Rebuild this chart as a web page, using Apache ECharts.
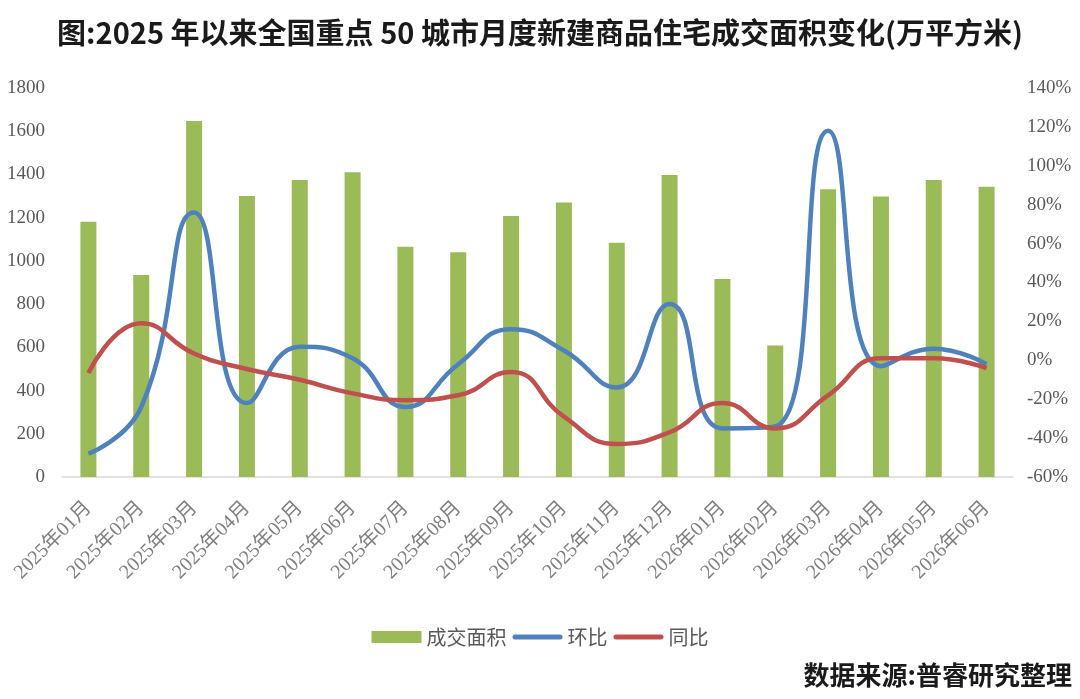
<!DOCTYPE html>
<html>
<head>
    <title>2025年以来全国重点50城市月度新建商品住宅成交面积变化</title>
    <meta charset="utf-8" />
    <script src="https://cdn.jsdelivr.net/npm/echarts@6/dist/echarts.min.js"></script>
    <style type="text/css">
        html,
        body {
            width: 100%;
            height: 100%;
            margin: 0;
            background: #fff;
        }

        #main {
            width: 1080px;
            height: 699px;
        }
    </style>
</head>

<body>
    <div id="main"></div>
    <script>
        // 月份
        var months = ['2025年01月', '2025年02月', '2025年03月', '2025年04月', '2025年05月', '2025年06月',
            '2025年07月', '2025年08月', '2025年09月', '2025年10月', '2025年11月', '2025年12月',
            '2026年01月', '2026年02月', '2026年03月', '2026年04月', '2026年05月', '2026年06月'];
        // 成交面积（万平方米）
        var area = [1181, 935, 1647, 1300, 1374, 1410, 1066, 1040, 1208, 1270, 1084, 1397, 916, 608, 1331, 1298, 1374, 1343];
        // 环比（%）
        var mom = [-48, -24, 76, -22, 7, 1, -24, -2, 16, 5, -14, 29, -35, -34, 118, -3, 6, -2];
        // 同比（%）
        var yoy = [-6.5, 19, 3.5, -4.5, -10, -17, -20.5, -18, -6, -29, -43, -37, -22, -35, -18, 1, 1, -4];

        var axisFont = 'Liberation Serif, Noto Sans CJK SC';
        // 图例里的粗线（圆头）
        var lineIcon = 'path://M2.5,0 H47.5 A2.5,2.5 0 0 1 47.5,5 H2.5 A2.5,2.5 0 0 1 2.5,0 Z';

        var myChart = echarts.init(document.getElementById('main'));
        var option = {
            backgroundColor: '#fff',
            animation: false,
            title: {
                text: '图:2025 年以来全国重点 50 城市月度新建商品住宅成交面积变化(万平方米)',
                left: 'center',
                top: 13,
                textStyle: {
                    fontFamily: 'Noto Sans CJK SC',
                    fontSize: 29,
                    fontWeight: 'bold',
                    color: '#1a1a1a'
                }
            },
            graphic: [{
                type: 'text',
                right: 8,
                top: 662,
                style: {
                    text: '数据来源:普睿研究整理',
                    font: 'bold 26px "Noto Sans CJK SC"',
                    fill: '#1a1a1a'
                }
            }],
            legend: {
                top: 622,
                left: 'center',
                itemWidth: 50,
                itemHeight: 12,
                itemGap: 6,
                textStyle: {
                    fontFamily: 'Noto Sans CJK SC',
                    fontSize: 20,
                    color: '#595959'
                },
                data: [
                    { name: '成交面积', icon: 'rect' },
                    { name: '环比', icon: lineIcon },
                    { name: '同比', icon: lineIcon }
                ]
            },
            grid: {
                left: 62,
                right: 67,
                top: 88,
                bottom: 222
            },
            xAxis: {
                type: 'category',
                data: months,
                axisLine: { lineStyle: { color: '#d9d9d9', width: 1.5 } },
                axisTick: { show: false },
                axisLabel: {
                    rotate: 45,
                    margin: 28,
                    interval: 0,
                    fontFamily: axisFont,
                    fontSize: 20,
                    color: '#7f7f7f'
                }
            },
            yAxis: [{
                type: 'value',
                min: 0,
                max: 1800,
                interval: 200,
                splitLine: { show: false },
                axisLine: { show: false },
                axisTick: { show: false },
                axisLabel: {
                    margin: 17,
                    formatter: function (v) { return String(v); },
                    fontFamily: axisFont,
                    fontSize: 19,
                    color: '#595959'
                }
            }, {
                type: 'value',
                min: -60,
                max: 140,
                interval: 20,
                splitLine: { show: false },
                axisLine: { show: false },
                axisTick: { show: false },
                axisLabel: {
                    margin: 14,
                    formatter: '{value}%',
                    fontFamily: axisFont,
                    fontSize: 19,
                    color: '#595959'
                }
            }],
            series: [{
                name: '成交面积',
                type: 'bar',
                data: area,
                barWidth: 16,
                itemStyle: { color: '#9BBB59' }
            }, {
                name: '环比',
                type: 'line',
                yAxisIndex: 1,
                data: mom,
                smooth: 0.5,
                symbol: 'none',
                lineStyle: { color: '#4F81BD', width: 4.5 },
                itemStyle: { color: '#4F81BD' }
            }, {
                name: '同比',
                type: 'line',
                yAxisIndex: 1,
                data: yoy,
                smooth: 0.5,
                symbol: 'none',
                lineStyle: { color: '#C0504D', width: 4.5 },
                itemStyle: { color: '#C0504D' }
            }]
        };

        myChart.setOption(option);
    </script>
</body>
</html>
